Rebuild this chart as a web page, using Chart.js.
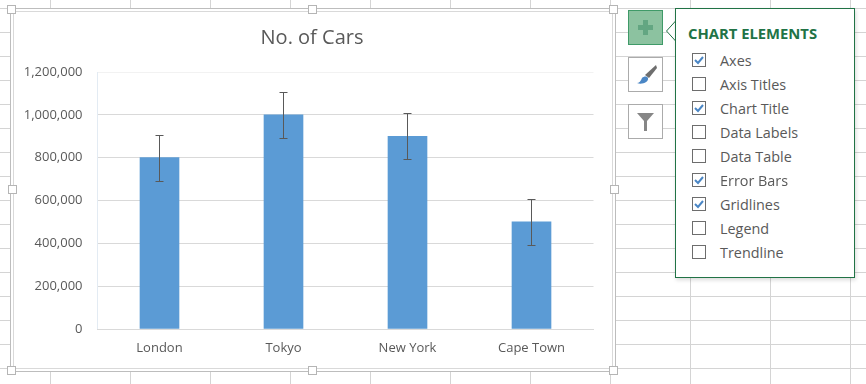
<!DOCTYPE html>
<html>
<head>
<meta charset="utf-8">
<title>No. of Cars</title>
<script src="https://cdn.jsdelivr.net/npm/chart.js@4"></script>
<style>
html, body { margin: 0; padding: 0; }
body {
    width: 866px; height: 384px; overflow: hidden; position: relative; background-color: #fff;
    /* worksheet cells */
    background-image:
        linear-gradient(#d4d4d4 1px, transparent 1px),
        linear-gradient(90deg, #d4d4d4 1px, transparent 1px);
    background-size: 80px 24px;
    background-position: 50px 8px;
    font-family: "Open Sans", sans-serif;
}
#frame { position: absolute; left: 10px; top: 8px; width: 604px; height: 362px; background: #fff; border: 1px solid #bdbdbd; }
#frameInner { position: absolute; left: 13px; top: 11px; width: 598px; height: 356px; border: 1px solid #d9d9d9; }
#chartBox { position: absolute; left: 13px; top: 11px; width: 598px; height: 357px; }
.handle { position: absolute; width: 7px; height: 7px; background: #fff; border: 1px solid #b5b5b5; }
.btn { position: absolute; left: 628px; width: 33px; height: 33px; background: #fff; border: 1px solid #ababab; }
.btn.on { background: #8cc2a0; border-color: #3f9a68; }
.btn svg { position: absolute; left: 0; top: 0; }
#panel { position: absolute; left: 675px; top: 8px; width: 178px; height: 268px; background: #fff;
    border: 1px solid #217346; box-shadow: 1px 2px 4px rgba(0,0,0,.15); }
#tip { position: absolute; left: 666px; top: 20px; }
#panelTitle { position: absolute; left: 12px; top: 14px; font-size: 14.8px; line-height: 20px; font-weight: 700; color: #217346; white-space: nowrap; }
.row { position: absolute; left: 16px; height: 14px; }
.box { position: absolute; left: 0; top: 0; width: 12px; height: 12px; border: 1px solid #6d6d6d; background: #fff; }
.box svg { position: absolute; left: 0; top: 0; }
.lbl { position: absolute; left: 28px; top: -2px; font-size: 14.4px; line-height: 20px; color: #595959; white-space: nowrap; }
</style>
</head>
<body>
<div id="frame"></div>
<div id="frameInner"></div>
<div id="chartBox"><canvas id="chart" width="598" height="357"></canvas></div>

<div class="handle" style="left:7px;top:5px"></div>
<div class="handle" style="left:308px;top:5px"></div>
<div class="handle" style="left:609px;top:5px"></div>
<div class="handle" style="left:8px;top:185px"></div>
<div class="handle" style="left:610px;top:185px"></div>
<div class="handle" style="left:7px;top:366px"></div>
<div class="handle" style="left:308px;top:366px"></div>
<div class="handle" style="left:609px;top:366px"></div>

<div class="btn on" style="top:10px">
    <svg width="33" height="33"><path d="M14 9h5v5h5v5h-5v5h-5v-5H9v-5h5z" fill="#63a682"/></svg>
</div>
<div class="btn" style="top:57px">
    <svg width="33" height="33">
        <path d="M16 17L27 7l1 3-8 10z" fill="#6e6e6e"/>
        <path d="M8 25c2 0 4-2 5-5 2-2 5-2 6 0 1 4-6 7-11 5z" fill="#4a86c5"/>
    </svg>
</div>
<div class="btn" style="top:104px">
    <svg width="33" height="33"><path d="M8 8h17l-7 8v10h-3v-10z" fill="#868686"/></svg>
</div>

<svg id="tip" width="11" height="22"><path d="M10.5 0L0.5 11L10.5 22" fill="#fff" stroke="#217346"/></svg>
<div id="panel"><div id="panelTitle"></div></div>

<script>
// Chart data
const categories = ['London', 'Tokyo', 'New York', 'Cape Town'];
const cars = [800000, 1000000, 900000, 500000];
const carErrors = [107000, 107000, 107000, 107000];
const axisMax = 1200000;
const axisStep = 200000;
const chartTitle = 'No. of Cars';

// Chart elements flyout
const panelHeading = 'CHART ELEMENTS';
const elementNames = ['Axes', 'Axis Titles', 'Chart Title', 'Data Labels', 'Data Table', 'Error Bars', 'Gridlines', 'Legend', 'Trendline'];
const elementChecked = [true, false, true, false, false, true, true, false, false];

const panel = document.getElementById('panel');
document.getElementById('panelTitle').textContent = panelHeading;
elementNames.forEach((name, i) => {
    const row = document.createElement('div');
    row.className = 'row';
    row.style.top = (44 + i * 24) + 'px';
    const tick = elementChecked[i]
        ? '<svg width="12" height="12"><path d="M2 6l3 3 5-6" fill="none" stroke="#4a86c5" stroke-width="2"/></svg>'
        : '';
    row.innerHTML = `<div class="box">${tick}</div><div class="lbl">${name}</div>`;
    panel.appendChild(row);
});

// Draws the whiskers from the error array, Chart.js has no error bars of its own
const errorBarsPlugin = {
    id: 'errorBars',
    afterDatasetsDraw(chart) {
        const ctx = chart.ctx;
        const xScale = chart.scales.x;
        const yScale = chart.scales.y;
        ctx.save();
        ctx.strokeStyle = '#595959';
        ctx.lineWidth = 1;
        cars.forEach((value, i) => {
            const x = Math.floor(xScale.getPixelForValue(i)) + 0.5;
            const top = Math.round(yScale.getPixelForValue(value + carErrors[i])) + 0.5;
            const bottom = Math.round(yScale.getPixelForValue(value - carErrors[i])) + 0.5;
            ctx.beginPath();
            ctx.moveTo(x, top);
            ctx.lineTo(x, bottom);
            ctx.moveTo(x - 4, top);
            ctx.lineTo(x + 4, top);
            ctx.moveTo(x - 4, bottom);
            ctx.lineTo(x + 4, bottom);
            ctx.stroke();
        });
        ctx.restore();
    }
};

new Chart(document.getElementById('chart'), {
    type: 'bar',
    data: {
        labels: categories,
        datasets: [{
            label: chartTitle,
            data: cars,
            backgroundColor: '#5b9bd5',
            barThickness: 39
        }]
    },
    options: {
        responsive: false,
        animation: false,
        plugins: {
            legend: { display: false },
            tooltip: { enabled: false },
            title: {
                display: true,
                text: chartTitle,
                color: '#595959',
                font: { family: '"Open Sans", sans-serif', size: 20, weight: 'normal', lineHeight: 1.2 },
                padding: { top: 15, bottom: 22 }
            }
        },
        scales: {
            x: {
                afterFit: scale => { scale.height = 39; },
                border: { color: '#d9d9d9' },
                grid: {
                    drawTicks: false,
                    color: ctx => (ctx.index === 0 || ctx.index === categories.length) ? '#e3ebf3' : 'transparent'
                },
                ticks: {
                    color: '#595959',
                    padding: 11,
                    font: { family: '"Open Sans", sans-serif', size: 13 }
                }
            },
            y: {
                min: 0,
                max: axisMax,
                afterFit: scale => { scale.width = 84.5; },
                border: { display: false },
                grid: {
                    drawTicks: false,
                    color: ctx => ctx.tick.value === axisMax ? '#f2f2f2' : '#d9d9d9'
                },
                ticks: {
                    stepSize: axisStep,
                    color: '#595959',
                    padding: 15,
                    font: { family: '"Open Sans", sans-serif', size: 13 },
                    callback: value => value.toLocaleString('en-US')
                }
            },
            // empty axis, only holds the gap right of the plot so the title stays centred on the chart
            rightGap: {
                position: 'right',
                afterFit: scale => { scale.width = 17.5; },
                border: { display: false },
                grid: { display: false },
                ticks: { display: false }
            }
        }
    },
    plugins: [errorBarsPlugin]
});
</script>
</body>
</html>
